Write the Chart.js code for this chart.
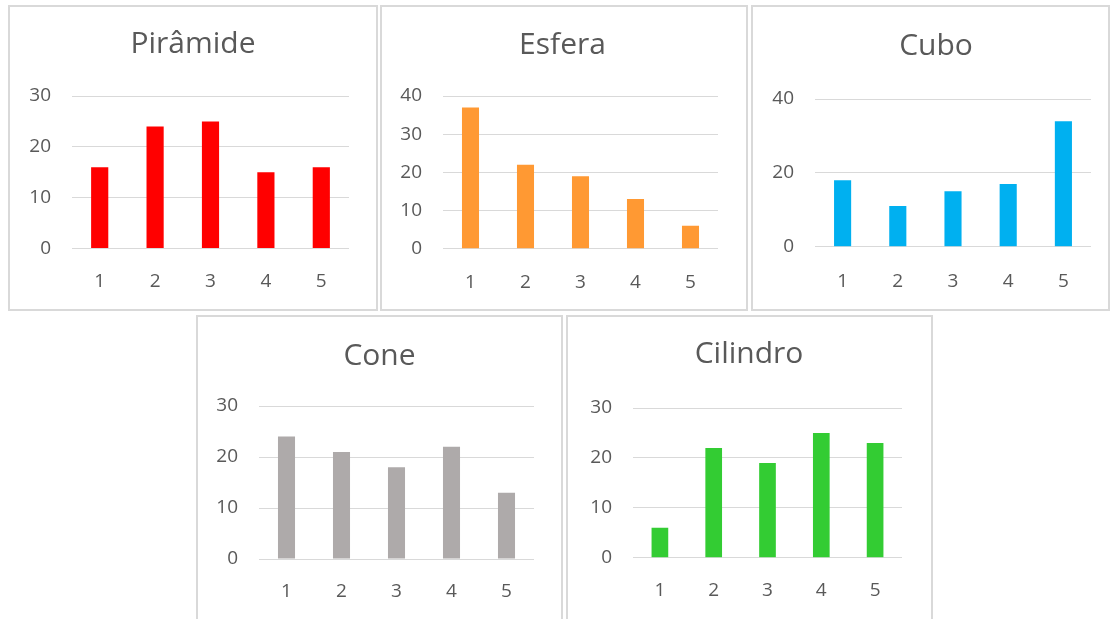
<!DOCTYPE html>
<html>
<head>
<meta charset="utf-8">
<script src="https://cdn.jsdelivr.net/npm/chart.js@4.4.0/dist/chart.umd.min.js"></script>
<style>
    body { margin: 0; background: #fff; width: 1111px; height: 619px; overflow: hidden; position: relative; }
    .painel { position: absolute; box-sizing: border-box; border: 2px solid #d9d9d9; background: #fff; }
    .painel canvas { display: block; }
</style>
</head>
<body>
<div class="painel" style="left:8px;top:5px;width:370px;height:306px"><canvas id="chartPiramide" width="366" height="302"></canvas></div>
<div class="painel" style="left:380px;top:5px;width:368px;height:306px"><canvas id="chartEsfera" width="364" height="302"></canvas></div>
<div class="painel" style="left:751px;top:5px;width:359px;height:306px"><canvas id="chartCubo" width="355" height="302"></canvas></div>
<div class="painel" style="left:196px;top:315px;width:367px;height:310px"><canvas id="chartCone" width="363" height="306"></canvas></div>
<div class="painel" style="left:566px;top:315px;width:367px;height:310px"><canvas id="chartCilindro" width="363" height="306"></canvas></div>

<script>
    // dados
    const categorias = ['1', '2', '3', '4', '5'];

    const piramide = [16, 24, 25, 15, 16];
    const esfera = [37, 22, 19, 13, 6];
    const cubo = [18, 11, 15, 17, 34];
    const cone = [24, 21, 18, 22, 13];
    const cilindro = [6, 22, 19, 25, 23];

    // marcas do eixo y
    const ticksPiramide = [0, 10, 20, 30];
    const ticksEsfera = [0, 10, 20, 30, 40];
    const ticksCubo = [0, 20, 40];
    const ticksCone = [0, 10, 20, 30];
    const ticksCilindro = [0, 10, 20, 30];

    const corTexto = '#595959';
    const corGrade = '#d9d9d9';
    const fonteTicks = { family: 'Open Sans', size: 19 };

    function grafico(id, titulo, valores, ticks, cor, lay) {
        new Chart(document.getElementById(id), {
            type: 'bar',
            data: {
                labels: categorias,
                datasets: [{
                    data: valores,
                    backgroundColor: cor,
                    barPercentage: 0.31,
                    categoryPercentage: 1
                }]
            },
            options: {
                responsive: false,
                animation: false,
                layout: { padding: { left: lay.padL, right: lay.padR, top: 0, bottom: 0 } },
                plugins: {
                    legend: { display: false },
                    tooltip: { enabled: false },
                    title: {
                        display: true,
                        text: titulo,
                        color: corTexto,
                        font: { family: 'Open Sans', size: 30, weight: 'normal', lineHeight: 1.2 },
                        padding: { top: lay.tTop, bottom: lay.tBottom }
                    }
                },
                scales: {
                    x: {
                        grid: { display: false },
                        border: { display: false },
                        ticks: { color: corTexto, font: fonteTicks, padding: lay.xPad },
                        afterFit(s) { s.height = lay.xH; }
                    },
                    y: {
                        min: ticks[0],
                        max: ticks[ticks.length - 1],
                        ticks: {
                            stepSize: ticks[1] - ticks[0],
                            color: corTexto,
                            font: fonteTicks,
                            padding: 21
                        },
                        grid: { color: corGrade, drawTicks: false },
                        border: { display: false },
                        afterFit(s) { s.width = lay.yW; }
                    },
                    // eixo vazio só para a margem direita
                    margem: {
                        position: 'right',
                        ticks: { display: false },
                        grid: { display: false },
                        border: { display: false },
                        afterFit(s) { s.width = lay.dir; }
                    }
                }
            }
        });
    }

    grafico('chartPiramide', 'Pirâmide', piramide, ticksPiramide, '#ff0000',
        { padL: 0, padR: 0, yW: 62, dir: 27, xH: 60.5, xPad: 14, tTop: 19, tBottom: 34 });
    grafico('chartEsfera', 'Esfera', esfera, ticksEsfera, '#ff9933',
        { padL: 0, padR: 3, yW: 61, dir: 25, xH: 60.3, xPad: 14, tTop: 20, tBottom: 33 });
    grafico('chartCubo', 'Cubo', cubo, ticksCubo, '#00b0f0',
        { padL: 11, padR: 0, yW: 51, dir: 17, xH: 62.3, xPad: 15, tTop: 21, tBottom: 35 });
    grafico('chartCone', 'Cone', cone, ticksCone, '#aeaaaa',
        { padL: 0, padR: 0, yW: 61, dir: 27, xH: 64, xPad: 13, tTop: 21, tBottom: 32 });
    grafico('chartCilindro', 'Cilindro', cilindro, ticksCilindro, '#33cc33',
        { padL: 0, padR: 1, yW: 65, dir: 28, xH: 65.3, xPad: 13, tTop: 19, tBottom: 36 });
</script>
</body>
</html>
